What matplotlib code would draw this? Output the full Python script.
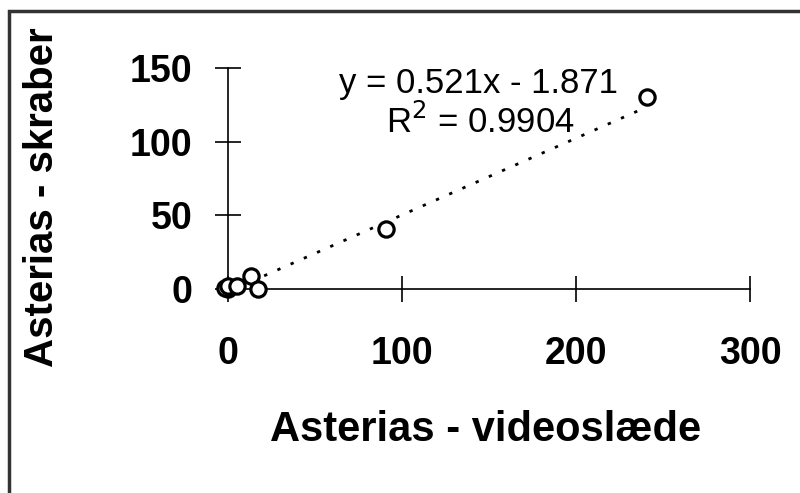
import numpy as np
import matplotlib.pyplot as plt
from matplotlib.patches import Rectangle

# data
video = [0, -2, 0, 5, 13, 17, 91, 241]
skraber = [0, 1, 2, 2, 9, 0, 41, 130]
slope, intercept = 0.521, -1.871
r2 = 0.9904

plt.rcParams['font.family'] = ['Liberation Sans', 'DejaVu Sans']

fig = plt.figure(figsize=(8, 4.93), dpi=100)
ax = fig.add_axes([0.285, 0.4138, 0.6525, 0.4483])

# trendline
xs = np.array([min(video), max(video)])
ax.plot(xs, slope * xs + intercept, ls=(0, (1.2, 4)), lw=2, c="black", zorder=2)

ax.plot(video, skraber, "o", ms=11, mfc="white", mec="black", mew=2.3,
        ls="none", clip_on=False, zorder=3)

ax.set_xlim(0, 300)
ax.set_ylim(0, 150)
ax.set_xticks([0, 100, 200, 300])
ax.set_yticks([0, 50, 100, 150])
for s in ["top", "right"]:
    ax.spines[s].set_visible(False)
for s in ["left", "bottom"]:
    ax.spines[s].set_linewidth(1.2)
ax.tick_params(direction="inout", length=19, width=1.2, labelsize=27)
ax.tick_params(axis="x", pad=24)
ax.tick_params(axis="y", pad=16)
for lab in ax.get_xticklabels() + ax.get_yticklabels():
    lab.set_fontweight("bold")

fig.text(0.598, 0.83, "y = 0.521x - 1.871", fontsize=25, ha="center", va="center")
fig.text(0.600, 0.752, "R$^2$ = %.4f" % r2, fontsize=25, ha="center", va="center")

fig.text(0.607, 0.128, "Asterias - videoslæde", fontsize=30, fontweight="bold",
         ha="center", va="center")
fig.text(0.052, 0.6, "Asterias - skraber", fontsize=29, fontweight="bold",
         ha="center", va="center", rotation=90)

# outer chart border (right and bottom edges fall outside the image)
fig.patches.append(Rectangle((0.011, -0.1), 1.2, 1.078, transform=fig.transFigure,
                             fill=False, ec="#333333", lw=2.5))

fig.savefig("out.png", dpi=100)
